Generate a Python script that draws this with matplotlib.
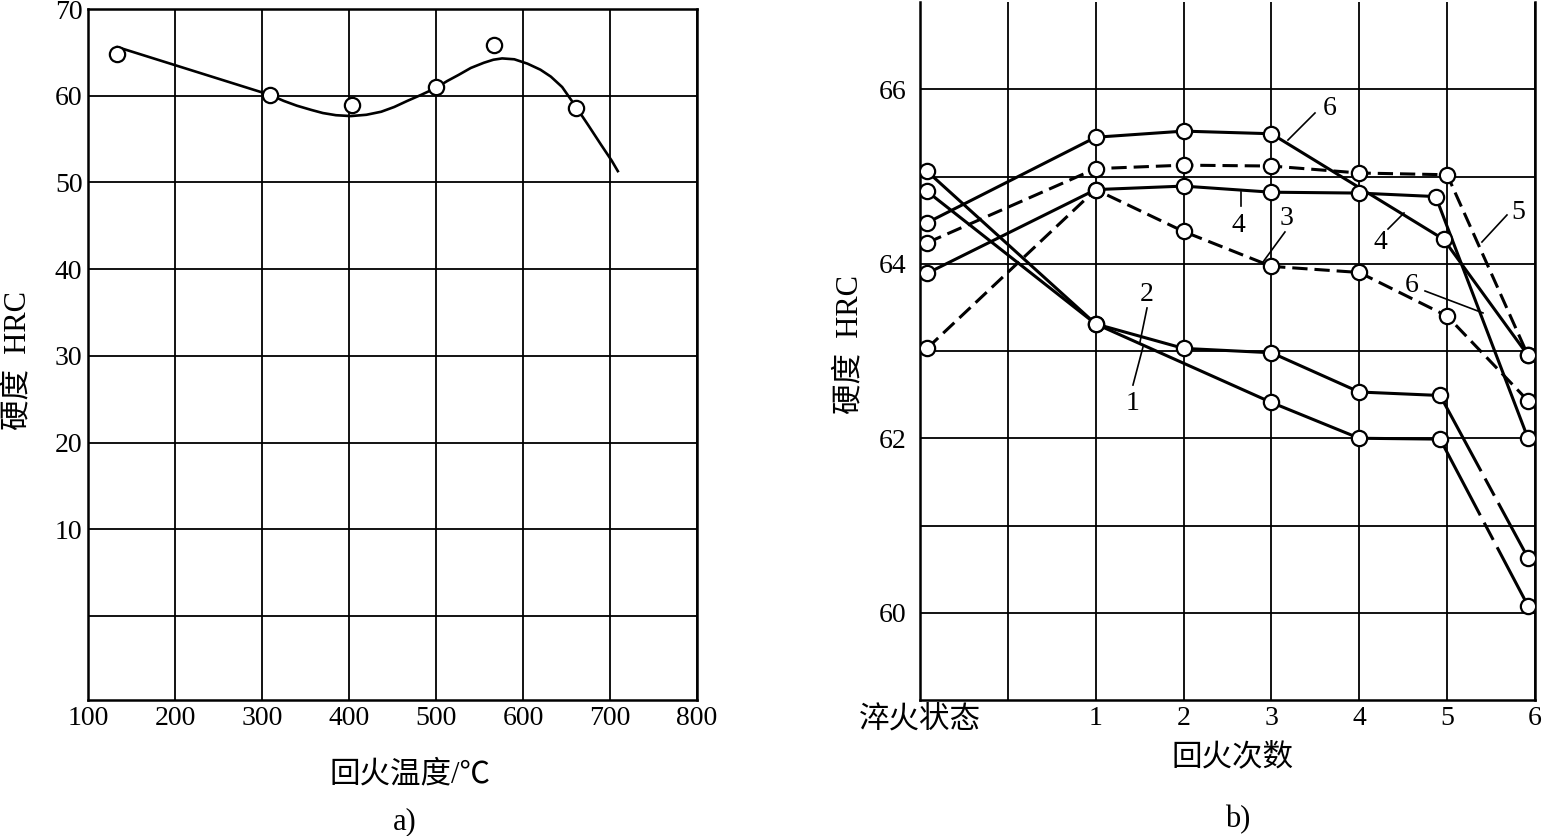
import matplotlib
matplotlib.use("Agg")
import matplotlib.pyplot as plt

plt.rcParams['font.family'] = ['Liberation Serif', 'Noto Sans CJK SC', 'DejaVu Sans']
plt.rcParams['lines.scale_dashes'] = False

# ---- panel a) data: tempering temperature vs hardness
temp_pts = [133, 309, 403, 500, 567, 661]
hrc_pts = [64.8, 60.1, 58.9, 61.0, 65.8, 58.6]
# fitted curve
curve_t = [134, 309, 325, 340, 357, 370, 385, 402, 420, 437, 452, 467, 483, 500, 513, 526,
           540, 555, 566, 576, 590, 605, 620, 632, 645, 661, 675, 690, 702, 709]
curve_h = [65.6, 60.1, 59.4, 58.85, 58.35, 58.0, 57.75, 57.65, 57.8, 58.15, 58.7, 59.4, 60.1, 60.9, 61.7, 62.4,
           63.2, 63.8, 64.15, 64.3, 64.2, 63.7, 63.0, 62.2, 61.0, 58.7, 56.6, 54.3, 52.5, 51.3]

# ---- panel b) data: number of tempers vs hardness (x=-1 is as-quenched)
x1 = [-0.92, 1, 3, 4, 4.92, 5.92]
y1 = [64.83, 63.31, 62.41, 62.0, 61.99, 60.08]
x2 = [-0.92, 1, 2, 3, 4, 4.92, 5.92]
y2 = [65.06, 63.31, 63.03, 62.98, 62.53, 62.49, 60.63]
x3 = [-0.92, 1, 2, 3, 4, 5, 5.92]
y3 = [63.03, 64.85, 64.37, 63.97, 63.90, 63.40, 62.43]
x4 = [-0.92, 1, 2, 3, 4, 4.87, 5.92]
y4 = [63.89, 64.85, 64.89, 64.82, 64.81, 64.77, 62.0]
x5 = [-0.92, 1, 2, 3, 4, 5, 5.92]
y5 = [64.24, 65.09, 65.13, 65.12, 65.04, 65.02, 62.95]
x6 = [-0.92, 1, 2, 3, 4.96, 5.92]
y6 = [64.47, 65.45, 65.52, 65.49, 64.28, 62.95]

xticks_b = [-1, 0, 1, 2, 3, 4, 5, 6]
xlabels_b = ['淬火状态', '', '1', '2', '3', '4', '5', '6']
yticks_b = [60, 61, 62, 63, 64, 65, 66]
ylabels_b = ['60', '', '62', '', '64', '', '66']
yticks_a = [0, 10, 20, 30, 40, 50, 60, 70]
ylabels_a = ['', '10', '20', '30', '40', '50', '60', '70']

# (text, text x, text y, leader start, leader end)
notes = [
    ('6', 3.667, 65.785, (3.496, 65.728), (3.188, 65.418)),
    ('5', 5.806, 64.582, (5.681, 64.559), (5.396, 64.249)),
    ('4', 2.619, 64.444, (2.654, 64.822), (2.654, 64.662)),
    ('3', 3.177, 64.524, (3.154, 64.364), (2.904, 64.020)),
    ('4', 4.236, 64.238, (4.327, 64.398), (4.509, 64.582)),
    ('6', 4.600, 63.756, (4.748, 63.688), (5.408, 63.436)),
    ('2', 1.584, 63.642, (1.584, 63.493), (1.504, 63.103)),
    ('1', 1.424, 62.404, (1.424, 62.610), (1.538, 63.046)),
]

fig = plt.figure(figsize=(15.43, 8.36), dpi=100)
W, H = 1543, 836
ax1 = fig.add_axes([88 / W, 1 - 700 / H, (697 - 88) / W, (700 - 9) / H])
ax2 = fig.add_axes([920 / W, 1 - 700 / H, (1535 - 920) / W, (700 - 2) / H])

mk = dict(marker='o', mfc='white', mec='black', mew=1.6, ms=11, ls='none', zorder=5)
fs = 20
cfs = 22

# panel a
ax1.plot(curve_t, curve_h, color='black', lw=1.9, zorder=4)
ax1.plot(temp_pts, hrc_pts, **mk)
ax1.set_xlim(100, 800)
ax1.set_ylim(-9.7, 70)
ax1.set_xticks(range(100, 801, 100))
ax1.set_yticks(yticks_a)
ax1.set_yticklabels(ylabels_a)
ax1.grid(True, color='black', lw=1.3)
ax1.tick_params(length=0, labelsize=fs, pad=4)
for s in ax1.spines.values():
    s.set_linewidth(1.8)

# panel b
lw = 2.2
dash = (0, (11, 5))
for xs, ys in [(x1, y1), (x2, y2)]:
    ax2.plot(xs[:-1], ys[:-1], color='black', lw=lw, zorder=4)
    ax2.plot(xs[-2:], ys[-2:], color='black', lw=lw, zorder=4,
             ls=(0, (62, 6, 14, 6, 200)))
ax2.plot(x3, y3, color='black', lw=lw, ls=dash, zorder=4)
ax2.plot(x4, y4, color='black', lw=lw, zorder=4)
ax2.plot(x5, y5, color='black', lw=lw, ls=dash, zorder=4)
ax2.plot(x6, y6, color='black', lw=lw, zorder=4)
for xs, ys in [(x1, y1), (x2, y2), (x3, y3), (x4, y4), (x5, y5), (x6, y6)]:
    ax2.plot(xs, ys, **mk)

for t, tx, ty, p0, p1 in notes:
    ax2.text(tx, ty, t, fontsize=fs, ha='center', va='center', zorder=6)
    ax2.plot([p0[0], p1[0]], [p0[1], p1[1]], color='black', lw=1.2, zorder=6)

ax2.set_xlim(-1, 6)
ax2.set_ylim(59, 67)
ax2.set_xticks(xticks_b)
ax2.set_xticklabels(xlabels_b)
ax2.set_yticks(yticks_b)
ax2.set_yticklabels(ylabels_b)
ax2.grid(True, color='black', lw=1.3)
ax2.tick_params(length=0, labelsize=fs)
ax2.tick_params(axis='x', pad=4)
ax2.tick_params(axis='y', pad=10)
ax2.get_xticklabels()[0].set_fontsize(cfs)
for s in ax2.spines.values():
    s.set_linewidth(1.8)
ax2.spines['top'].set_visible(False)

# labels
fig.text(18 / W, 1 - 360 / H, '硬度  HRC', rotation=90, fontsize=cfs, ha='center', va='center')
fig.text(850 / W, 1 - 345 / H, '硬度  HRC', rotation=90, fontsize=cfs, ha='center', va='center')
fig.text(410 / W, 1 - 775 / H, '回火温度/℃', fontsize=cfs, ha='center', va='center')
fig.text(405 / W, 1 - 822 / H, 'a)', fontsize=cfs, ha='center', va='center')
fig.text(1232 / W, 1 - 758 / H, '回火次数', fontsize=cfs, ha='center', va='center')
fig.text(1238 / W, 1 - 820 / H, 'b)', fontsize=cfs, ha='center', va='center')

fig.savefig('out.png', dpi=100)
